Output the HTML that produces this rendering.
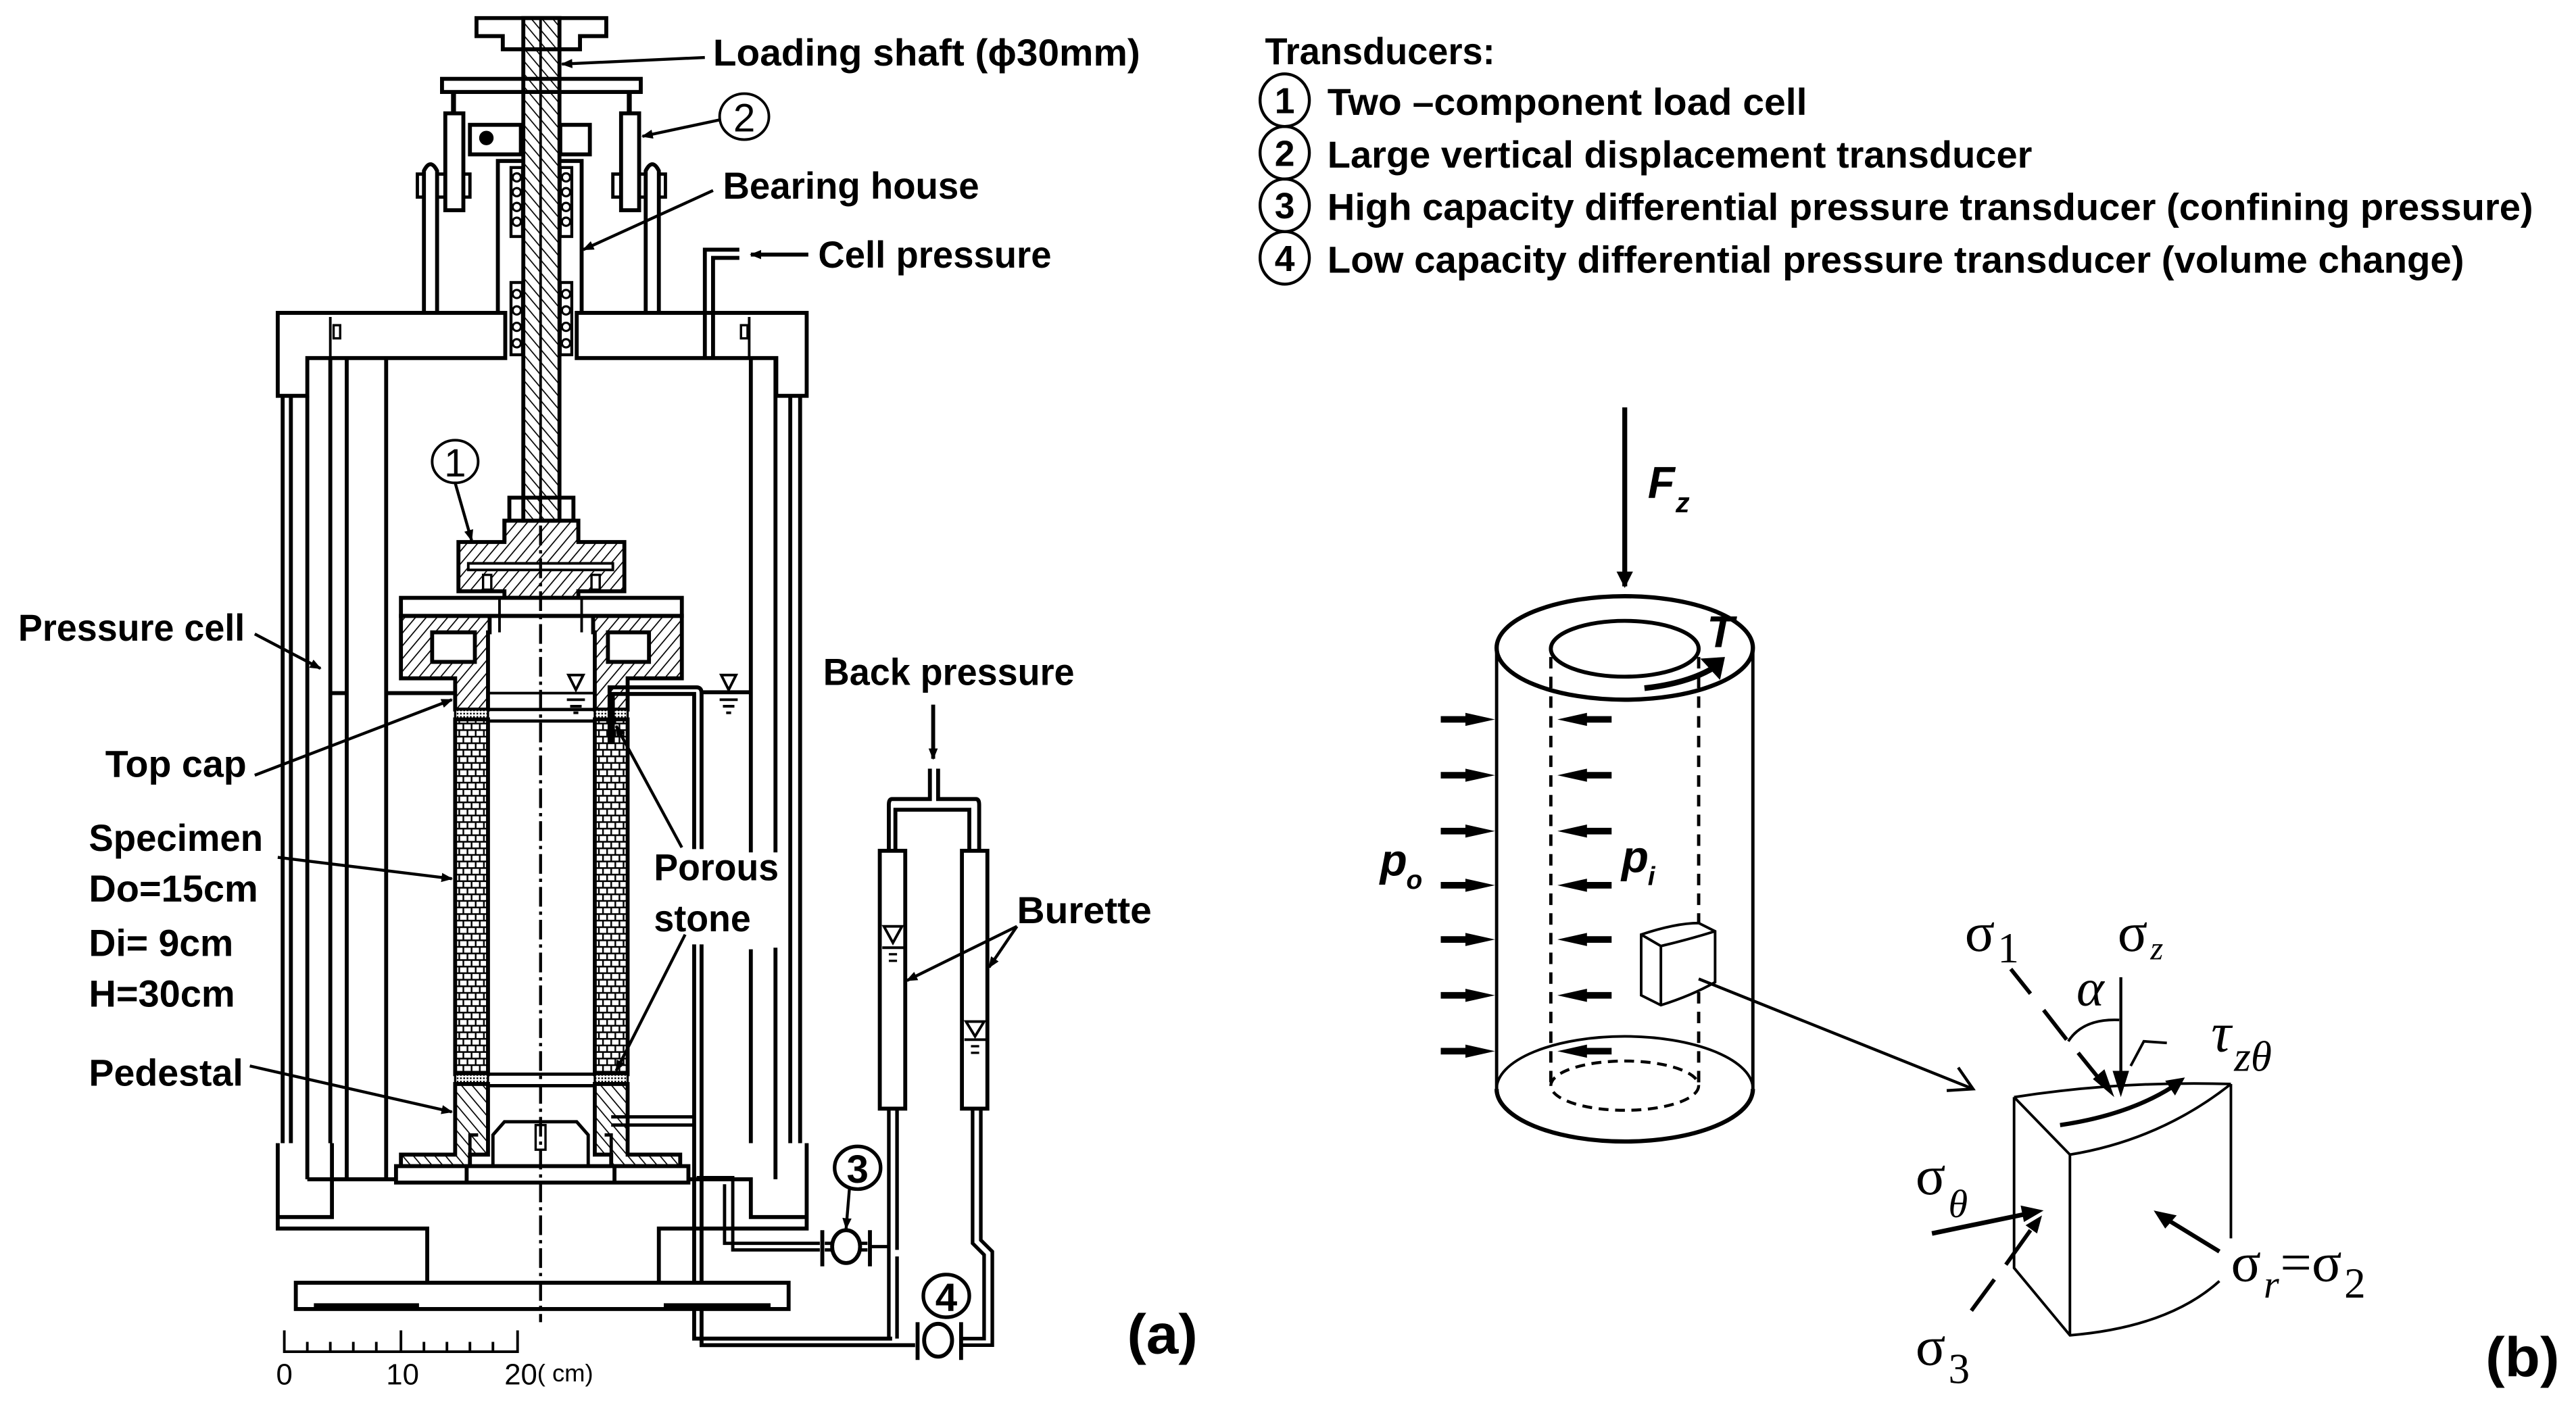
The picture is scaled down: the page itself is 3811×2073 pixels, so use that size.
<!DOCTYPE html>
<html><head><meta charset="utf-8"><style>
html,body{margin:0;padding:0;background:#fff;}
svg{display:block;}
.b{font-family:"Liberation Sans",sans-serif;font-weight:bold;font-size:23px;}
.s{font-family:"Liberation Serif",serif;}
</style></head><body>
<svg width="3811" height="2073" viewBox="0 0 1568 853" xmlns="http://www.w3.org/2000/svg">
<defs>
<pattern id="h1" width="5" height="5" patternUnits="userSpaceOnUse" patternTransform="rotate(40)"><line x1="0" y1="0" x2="0" y2="5" stroke="#000" stroke-width="1.4"/></pattern>
<pattern id="h2" width="5" height="5" patternUnits="userSpaceOnUse" patternTransform="rotate(-40)"><line x1="0" y1="0" x2="0" y2="5" stroke="#000" stroke-width="1.4"/></pattern>
<pattern id="br" width="10" height="8" patternUnits="userSpaceOnUse"><rect width="10" height="8" fill="#fff"/><path d="M0,0.5H10M0,4.5H10M2,0V4M7,0V4M4.5,4V8M9.5,4V8" stroke="#000" stroke-width="1"/></pattern>
<pattern id="dt" width="2" height="2" patternUnits="userSpaceOnUse"><rect width="2" height="2" fill="#fff"/><rect width="1" height="1" fill="#000"/></pattern>
<marker id="ah" viewBox="0 0 10 10" refX="9" refY="5" markerWidth="7" markerHeight="7" orient="auto" markerUnits="userSpaceOnUse"><path d="M0,1 L10,5 L0,9 Z" fill="#000"/></marker>
<marker id="ahb" viewBox="0 0 10 10" refX="9" refY="5" markerWidth="12" markerHeight="10" orient="auto" markerUnits="userSpaceOnUse"><path d="M0,0 L10,5 L0,10 Z" fill="#000"/></marker>
</defs>
<rect width="1568" height="853" fill="#fff"/>

<!-- ================= PART (a) ================= -->
<g fill="none" stroke="#000" stroke-width="2.4" stroke-linejoin="miter">
<path d="M290,11 H369 V22 H353 V30 H306 V22 H290 Z" fill="#fff"/>
<rect x="269" y="48" width="121" height="8" fill="#fff"/>
<line x1="276" y1="56" x2="276" y2="69" stroke-width="3"/>
<line x1="383" y1="56" x2="383" y2="69" stroke-width="3"/>
<rect x="271" y="69" width="11" height="59" fill="#fff"/>
<rect x="378" y="69" width="11" height="59" fill="#fff"/>
<path d="M258,190 V104 Q262,96 266,104 V190"/>
<path d="M393,190 V104 Q397,96 401,104 V190"/>
<path d="M258,106 H254 V120 H258 M266,106 H271 M282,106 H286 V120 H282 M266,120 H271" stroke-width="2"/>
<path d="M393,106 H389 M378,106 H373 V120 H378 M389,120 H393 M401,106 H405 V120 H401" stroke-width="2"/>
<rect x="286" y="76" width="31" height="18" fill="#fff"/>
<rect x="341" y="76" width="18" height="18" fill="#fff"/>
<path d="M303,218 V98 H318 M341,98 H354 V190"/>
<rect x="311" y="102" width="7" height="42" stroke-width="1.8"/>
<rect x="341" y="102" width="7" height="42" stroke-width="1.8"/>
<rect x="311" y="172" width="7" height="44" stroke-width="1.8"/>
<rect x="341" y="172" width="7" height="44" stroke-width="1.8"/>
<!-- lid -->
<path d="M169,190.5 H307.5 V218 H187 V241 H169 Z" fill="#fff"/>
<path d="M351,190.5 H491 V241 H472.5 V218 H351 Z" fill="#fff"/>
<line x1="201" y1="193" x2="201" y2="218" stroke-width="1.6"/>
<line x1="456" y1="193" x2="456" y2="218" stroke-width="1.6"/>
<rect x="203" y="198" width="4" height="8" stroke-width="1.4"/>
<rect x="451" y="198" width="4" height="8" stroke-width="1.4"/>
<!-- walls left -->
<line x1="172" y1="241" x2="172" y2="696"/>
<line x1="177" y1="241" x2="177" y2="696"/>
<line x1="187" y1="241" x2="187" y2="718"/>
<line x1="201" y1="218" x2="201" y2="696"/>
<line x1="211" y1="218" x2="211" y2="718"/>
<line x1="235" y1="218" x2="235" y2="718"/>
<line x1="201" y1="422" x2="211" y2="422"/>
<!-- walls right -->
<line x1="457" y1="218" x2="457" y2="519"/>
<line x1="457" y1="578" x2="457" y2="696"/>
<line x1="472" y1="218" x2="472" y2="519"/>
<line x1="472" y1="577" x2="472" y2="718"/>
<line x1="481" y1="241" x2="481" y2="696"/>
<line x1="487" y1="241" x2="487" y2="696"/>
<!-- shaft -->
<rect x="318.5" y="11" width="22" height="306" fill="url(#h2)"/>
<line x1="329" y1="11" x2="329" y2="317" stroke-width="1.6"/>
<g stroke-width="1.3">
<circle cx="314.5" cy="108" r="2.5"/><circle cx="314.5" cy="117" r="2.5"/><circle cx="314.5" cy="126" r="2.5"/><circle cx="314.5" cy="135" r="2.5"/>
<circle cx="344.5" cy="108" r="2.5"/><circle cx="344.5" cy="117" r="2.5"/><circle cx="344.5" cy="126" r="2.5"/><circle cx="344.5" cy="135" r="2.5"/>
<circle cx="314.5" cy="179" r="2.5"/><circle cx="314.5" cy="189" r="2.5"/><circle cx="314.5" cy="199" r="2.5"/><circle cx="314.5" cy="209" r="2.5"/>
<circle cx="344.5" cy="179" r="2.5"/><circle cx="344.5" cy="189" r="2.5"/><circle cx="344.5" cy="199" r="2.5"/><circle cx="344.5" cy="209" r="2.5"/>
</g>
<circle cx="296" cy="84" r="3.2" fill="#000"/>
<path d="M429,218 V152 H450 M434,218 V157 H450"/>
<!-- connector & load cell -->
<path d="M310,317 V303 H349 V317 M307,330 V317 H352 V330"/>
<path d="M279,330 H307 V317 H352 V330 H380 V360 H352 V364 H307 V360 H279 Z" fill="url(#h1)"/>
<rect x="285" y="343" width="88" height="4" fill="#fff" stroke-width="1.6"/>
<rect x="294" y="350" width="5" height="9" fill="#fff" stroke-width="1.4"/>
<rect x="360" y="350" width="5" height="9" fill="#fff" stroke-width="1.4"/>
<!-- top cap assembly -->
<rect x="244" y="364" width="171" height="11" fill="#fff"/>
<path d="M244,375 H415 V413 H382 V432 H362 V385 H361 V375 H298 V385 H297 V432 H277 V413 H244 Z" fill="url(#h1)"/>
<rect x="263" y="385" width="26" height="18" fill="#fff"/>
<rect x="370" y="385" width="25" height="18" fill="#fff"/>
<line x1="304" y1="364" x2="304" y2="385" stroke-width="1.6"/>
<line x1="354" y1="364" x2="354" y2="385" stroke-width="1.6"/>
<line x1="235" y1="422" x2="277" y2="422"/>
<line x1="297" y1="422" x2="362" y2="422" stroke-width="1.6"/>
<line x1="427" y1="421.5" x2="457" y2="421.5"/>
<rect x="277" y="432" width="20" height="6" fill="url(#dt)" stroke-width="1.4"/>
<rect x="362" y="432" width="20" height="6" fill="url(#dt)" stroke-width="1.4"/>
<line x1="297" y1="432" x2="362" y2="432" stroke-width="2"/>
<line x1="297" y1="439" x2="362" y2="439" stroke-width="2"/>
<rect x="277" y="438" width="20" height="216" fill="url(#br)"/>
<rect x="362" y="438" width="20" height="216" fill="url(#br)"/>
<rect x="277" y="654" width="20" height="6" fill="url(#dt)" stroke-width="1.4"/>
<rect x="362" y="654" width="20" height="6" fill="url(#dt)" stroke-width="1.4"/>
<line x1="297" y1="654" x2="362" y2="654" stroke-width="2"/>
<line x1="297" y1="661" x2="362" y2="661" stroke-width="2"/>
<path d="M277,660 H297 V703 H286 V710 H244 V703 H277 Z" fill="url(#h2)"/>
<path d="M362,660 H382 V703 H414 V710 H372 V703 H362 Z" fill="url(#h2)"/>
<rect x="241" y="710" width="178" height="10" fill="#fff"/>
<line x1="284" y1="710" x2="284" y2="720"/>
<line x1="374" y1="710" x2="374" y2="720"/>
<path d="M286,710 V691 H291 M300,710 V691 L307,683 H351 L358,691 V710 M368,691 H372 V703" stroke-width="2"/>
<rect x="326" y="685" width="6" height="15" stroke-width="1.4"/>
<path d="M371,453 V418.5 H424 Q427,418.5 427,422 V517 M427,575 V819 H557" />
<path d="M373,453 V422.5 H422.5 V517 M422.5,575 V815 H543" />
<path d="M372,680 H422.5 M372,685 H422.5" stroke-width="2"/>
<path d="M424,717 H446 V761 H499 M441,721 V757 H499" stroke-width="2"/>
<!-- base -->
<path d="M169,696 V748 H260 V781 M169,741 H202 V696 M187,718 H241 M419,718 H457 V741 H491 V696 M491,741 V748 H401 V781"/>
<rect x="180" y="781" width="300" height="16" fill="#fff"/>
<line x1="191" y1="795" x2="255" y2="795" stroke-width="3"/>
<line x1="404" y1="795" x2="469" y2="795" stroke-width="3"/>
<line x1="329" y1="300" x2="329" y2="805" stroke-width="1.8" stroke-dasharray="12,3,2,3"/>
<path d="M346,411 H355 L350.5,420 Z M439,411 H448 L443.5,420 Z" stroke-width="1.6"/>
<path d="M345,426 H356 M347,430 H354 M349,434 H352 M438,426 H449 M440,430 H447 M442,434 H445" stroke-width="1.6"/>
<!-- back pressure plumbing -->
<path d="M566,468 V486.5 H543 Q541,486.5 541,490 V518 M571,468 V486.5 H594 Q596,486.5 596,490 V518"/>
<path d="M545,518 V493 H590 V518" />
<rect x="535.5" y="518" width="15.5" height="157" fill="#fff"/>
<rect x="585.5" y="518" width="15.5" height="157" fill="#fff"/>
<path d="M541,675 V815 M546,675 V761 M546,765 V815 M592,675 V757 L599,764 V815 H586 M597,675 V755 L604,762 V819 H586" stroke-width="2.2"/>
<path d="M538,564 H549 L543.5,574 Z M588,622 H599 L593.5,631 Z" stroke-width="1.6"/>
<path d="M537,577 H550 M587,633 H600" stroke-width="1.6"/>
<path d="M541,581 H546 M541,585 H546 M591,637 H596 M591,641 H596" stroke-width="1.4"/>
<path d="M502,761 H507 M523,761 H528 M502,757 H507 M523,757 H528" stroke-width="2"/>
<ellipse cx="515" cy="759" rx="8.5" ry="10" fill="#fff"/>
<line x1="500.5" y1="749" x2="500.5" y2="771"/>
<line x1="529.5" y1="749" x2="529.5" y2="771"/>
<path d="M529,759 H541" stroke-width="2"/>
<ellipse cx="571" cy="816" rx="8.5" ry="10" fill="#fff"/>
<line x1="558.5" y1="805" x2="558.5" y2="828"/>
<line x1="585" y1="805" x2="585" y2="828"/>
<path d="M173,810 V823 H315 V810 M187,817 V823 M201,817 V823 M215,817 V823 M229,817 V823 M244,810 V823 M258,817 V823 M272,817 V823 M286,817 V823 M300,817 V823" stroke-width="1.6"/>
</g>
<g stroke="#000" stroke-width="1.8" fill="none">
<line x1="429" y1="35" x2="342" y2="39" marker-end="url(#ah)"/>
<line x1="438" y1="73" x2="391" y2="83" marker-end="url(#ah)"/>
<line x1="434" y1="116" x2="355" y2="152" marker-end="url(#ah)"/>
<line x1="492" y1="155" x2="457" y2="155" marker-end="url(#ah)" stroke-width="2.4"/>
<line x1="277" y1="294" x2="287" y2="329" marker-end="url(#ah)"/>
<line x1="155" y1="386" x2="195" y2="407" marker-end="url(#ah)"/>
<line x1="155" y1="472" x2="275" y2="426" marker-end="url(#ah)"/>
<line x1="169" y1="522" x2="275" y2="535" marker-end="url(#ah)"/>
<line x1="152" y1="649" x2="275" y2="677" marker-end="url(#ah)"/>
<line x1="415" y1="516" x2="375" y2="442" marker-end="url(#ah)"/>
<line x1="417" y1="569" x2="375" y2="652" marker-end="url(#ah)"/>
<line x1="568" y1="429" x2="568" y2="462" marker-end="url(#ah)" stroke-width="2.4"/>
<line x1="619" y1="564" x2="552" y2="597" marker-end="url(#ah)"/>
<line x1="619" y1="564" x2="602" y2="589" marker-end="url(#ah)"/>
<line x1="517" y1="724" x2="515" y2="748" marker-end="url(#ah)"/>
</g>
<g fill="none" stroke="#000" stroke-width="1.6">
<ellipse cx="277" cy="281" rx="14" ry="13"/>
<ellipse cx="453" cy="71" rx="15" ry="14"/>
<ellipse cx="522" cy="711" rx="14" ry="13" stroke-width="2.2"/>
<ellipse cx="576" cy="789" rx="14" ry="13" stroke-width="2.2"/>
</g>
<g font-family="Liberation Sans, sans-serif" text-anchor="middle">
<text x="277" y="290" font-size="24">1</text>
<text x="453" y="80" font-size="24">2</text>
<text x="522" y="720" font-size="24" font-weight="bold">3</text>
<text x="576" y="798" font-size="24" font-weight="bold">4</text>
<text x="173" y="843" font-size="18">0</text>
<text x="245" y="843" font-size="18">10</text>
<text x="317" y="843" font-size="18">20</text>
<text x="344" y="841" font-size="15">( cm)</text>
</g>
<g class="b">
<text x="434" y="40" textLength="260" lengthAdjust="spacingAndGlyphs">Loading shaft (ϕ30mm)</text>
<text x="440" y="121" textLength="156" lengthAdjust="spacingAndGlyphs">Bearing house</text>
<text x="498" y="163" textLength="142" lengthAdjust="spacingAndGlyphs">Cell pressure</text>
<text x="11" y="390" textLength="138" lengthAdjust="spacingAndGlyphs">Pressure cell</text>
<text x="64" y="473" textLength="86" lengthAdjust="spacingAndGlyphs">Top cap</text>
<text x="54" y="518" textLength="106" lengthAdjust="spacingAndGlyphs">Specimen</text>
<text x="54" y="549" textLength="103" lengthAdjust="spacingAndGlyphs">Do=15cm</text>
<text x="54" y="582" textLength="88" lengthAdjust="spacingAndGlyphs">Di= 9cm</text>
<text x="54" y="613" textLength="89" lengthAdjust="spacingAndGlyphs">H=30cm</text>
<text x="54" y="661" textLength="94" lengthAdjust="spacingAndGlyphs">Pedestal</text>
<text x="398" y="536" textLength="76" lengthAdjust="spacingAndGlyphs">Porous</text>
<text x="398" y="567" textLength="59" lengthAdjust="spacingAndGlyphs">stone</text>
<text x="501" y="417" textLength="153" lengthAdjust="spacingAndGlyphs">Back pressure</text>
<text x="619" y="562" textLength="82" lengthAdjust="spacingAndGlyphs">Burette</text>
<text x="686" y="824" font-size="34" textLength="43" lengthAdjust="spacingAndGlyphs">(a)</text>
<text x="1513" y="838" font-size="34" textLength="45" lengthAdjust="spacingAndGlyphs">(b)</text>
</g>

<g class="b">
<text x="770" y="39" textLength="140" lengthAdjust="spacingAndGlyphs">Transducers:</text>
<text x="808" y="70" textLength="292" lengthAdjust="spacingAndGlyphs">Two –component load cell</text>
<text x="808" y="102" textLength="429" lengthAdjust="spacingAndGlyphs">Large vertical displacement transducer</text>
<text x="808" y="134" textLength="734" lengthAdjust="spacingAndGlyphs">High capacity differential pressure transducer (confining pressure)</text>
<text x="808" y="166" textLength="692" lengthAdjust="spacingAndGlyphs">Low capacity differential pressure transducer (volume change)</text>
</g>
<g fill="none" stroke="#000" stroke-width="1.8">
<ellipse cx="782" cy="61" rx="15" ry="16"/>
<ellipse cx="782" cy="93" rx="15" ry="16"/>
<ellipse cx="782" cy="125" rx="15" ry="16"/>
<ellipse cx="782" cy="157" rx="15" ry="16"/>
</g>
<g font-family="Liberation Sans, sans-serif" font-weight="bold" font-size="22" text-anchor="middle">
<text x="782" y="69">1</text><text x="782" y="101">2</text><text x="782" y="133">3</text><text x="782" y="165">4</text>
</g>

<!-- ================= PART (b) ================= -->
<g fill="none" stroke="#000" stroke-width="2">
<line x1="989" y1="248" x2="989" y2="357" stroke-width="3" marker-end="url(#ahb)"/>
<path d="M911,394.5 V663 M1067,394.5 V663"/>
<ellipse cx="989" cy="394.5" rx="78" ry="31.5" stroke-width="2.6"/>
<ellipse cx="989" cy="395" rx="45" ry="17" stroke-width="2.4"/>
<path d="M911,663 A78,32 0 0,0 1067,663" stroke-width="2.6"/>
<path d="M911,663 A78,32 0 0,1 1067,663" stroke-width="1.6"/>
<ellipse cx="989" cy="661" rx="45" ry="15" stroke-dasharray="6,4" stroke-width="1.8"/>
<line x1="944" y1="400" x2="944" y2="661" stroke-dasharray="7,5"/>
<line x1="1034" y1="400" x2="1034" y2="661" stroke-dasharray="7,5"/>
<path d="M1001,419 Q1028,416 1044,406" stroke-width="3.5"/>
</g>
<path d="M1035,401 L1050,400 L1047,414 Z" fill="#000"/>
<g stroke="#000" stroke-width="4" fill="none">
<line x1="877" y1="438" x2="900" y2="438"/><line x1="877" y1="472" x2="900" y2="472"/><line x1="877" y1="506" x2="900" y2="506"/><line x1="877" y1="539" x2="900" y2="539"/><line x1="877" y1="572" x2="900" y2="572"/><line x1="877" y1="606" x2="900" y2="606"/><line x1="877" y1="640" x2="900" y2="640"/>
<line x1="958" y1="438" x2="981" y2="438"/><line x1="958" y1="472" x2="981" y2="472"/><line x1="958" y1="506" x2="981" y2="506"/><line x1="958" y1="539" x2="981" y2="539"/><line x1="958" y1="572" x2="981" y2="572"/><line x1="958" y1="606" x2="981" y2="606"/><line x1="958" y1="640" x2="981" y2="640"/>
</g>
<g fill="#000">
<path d="M892,434 L910,438 L892,442 Z"/><path d="M892,468 L910,472 L892,476 Z"/><path d="M892,502 L910,506 L892,510 Z"/><path d="M892,535 L910,539 L892,543 Z"/><path d="M892,568 L910,572 L892,576 Z"/><path d="M892,602 L910,606 L892,610 Z"/><path d="M892,636 L910,640 L892,644 Z"/>
<path d="M966,434 L948,438 L966,442 Z"/><path d="M966,468 L948,472 L966,476 Z"/><path d="M966,502 L948,506 L966,510 Z"/><path d="M966,535 L948,539 L966,543 Z"/><path d="M966,568 L948,572 L966,576 Z"/><path d="M966,602 L948,606 L966,610 Z"/><path d="M966,636 L948,640 L966,644 Z"/>
</g>
<g fill="#fff" stroke="#000" stroke-width="1.6">
<path d="M999,569 Q1020,562 1034,562 L1044,567 L1044,598 Q1030,606 1011,612 L999,606 Z"/>
<path d="M999,569 L1011,576 Q1028,572 1044,567 M1011,576 V612" fill="none"/>
</g>
<g stroke="#000" stroke-width="1.8" fill="none">
<line x1="1034" y1="596" x2="1201" y2="663"/>
<path d="M1185,664 L1201,663 L1192,650"/>
</g>
<g fill="none" stroke="#000" stroke-width="1.6">
<path d="M1226,668 Q1290,658 1358,660"/>
<path d="M1226,668 L1260,703 Q1315,694 1358,660"/>
<path d="M1226,668 V772 L1260,813 Q1320,808 1351,780"/>
<path d="M1260,703 V813"/>
<path d="M1358,660 V754"/>
</g>
<g stroke="#000" fill="none" stroke-width="2.4">
<path d="M1224,590 L1236,605 M1244,615 L1258,633 M1265,641 L1282,662"/>
<line x1="1291" y1="595" x2="1291" y2="655" stroke-width="1.8"/>
<path d="M1259,634 Q1268,620 1290,621" stroke-width="1.6"/>
<path d="M1297,649 L1305,634 L1319,635" stroke-width="1.6"/>
<path d="M1254,685 Q1295,679 1322,662" stroke-width="2.6"/>
<line x1="1176" y1="751" x2="1234" y2="739" stroke-width="2.8"/>
<path d="M1200,798 L1214,779 M1221,770 L1236,749"/>
<line x1="1351" y1="762" x2="1320" y2="743" stroke-width="2.6"/>
</g>
<g fill="#000">
<path d="M1287,668 L1274,657 L1281,651 Z"/>
<path d="M1291,668 L1286,652 L1296,652 Z"/>
<path d="M1330,656 L1318,658 L1324,667 Z"/>
<path d="M1244,737 L1230,734 L1232,744 Z"/>
<path d="M1243,740 L1233,746 L1240,751 Z"/>
<path d="M1311,737 L1325,740 L1318,748 Z"/>
</g>
<g font-family="Liberation Sans, sans-serif" font-weight="bold" font-style="italic">
<text x="1003" y="303" font-size="27">F</text><text x="1020" y="312" font-size="17">z</text>
<text x="1039" y="394" font-size="27">T</text>
<text x="840" y="533" font-size="27">p</text><text x="856" y="541" font-size="16">o</text>
<text x="987" y="531" font-size="27">p</text><text x="1003" y="539" font-size="16">i</text>
</g>
<g class="s" font-size="34">
<text x="1196" y="579">σ</text><text x="1216" y="586" font-size="26">1</text>
<text x="1289" y="579">σ</text><text x="1309" y="584" font-size="20" font-style="italic">z</text>
<text x="1264" y="612" font-style="italic" font-size="32">α</text>
<text x="1346" y="640" font-style="italic">τ</text><text x="1360" y="652" font-size="26" font-style="italic">zθ</text>
<text x="1166" y="727">σ</text><text x="1186" y="741" font-size="24" font-style="italic">θ</text>
<text x="1358" y="780">σ</text><text x="1378" y="790" font-size="24" font-style="italic">r</text><text x="1388" y="780">=σ</text><text x="1427" y="790" font-size="26">2</text>
<text x="1166" y="831">σ</text><text x="1186" y="842" font-size="26">3</text>
</g>
</svg>
</body></html>
